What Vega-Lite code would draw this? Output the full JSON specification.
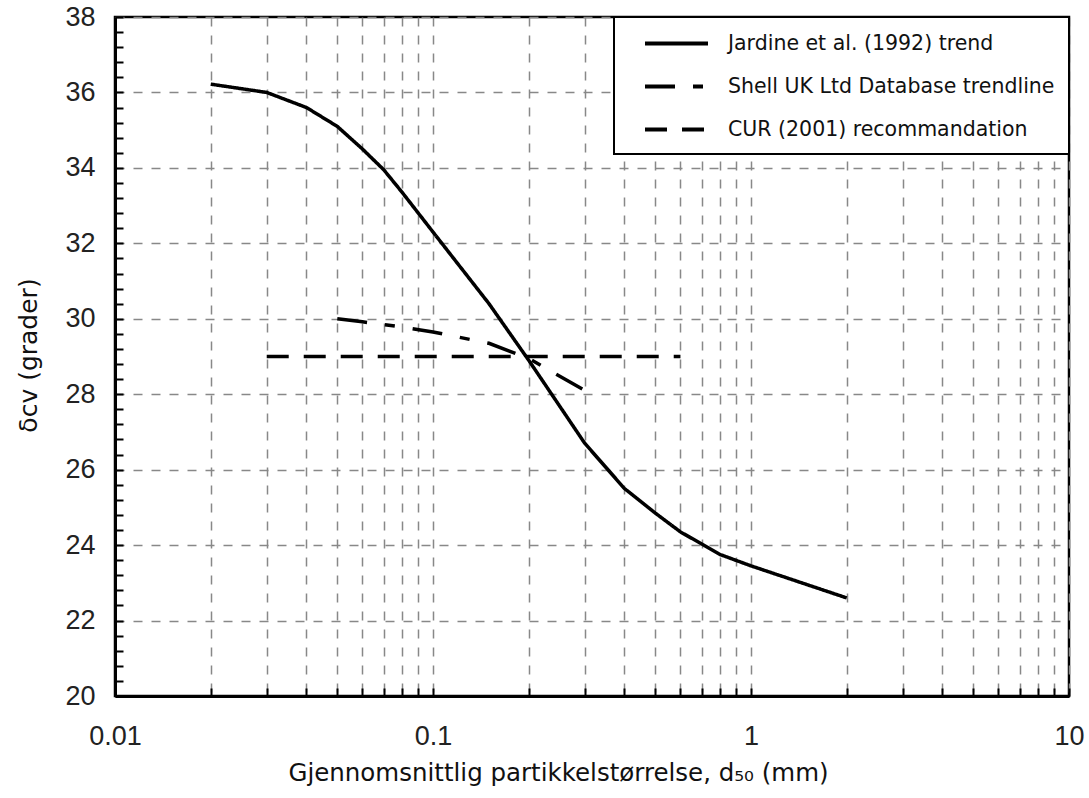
{
  "$schema": "https://vega.github.io/schema/vega-lite/v6.json",
  "width": 954,
  "height": 679,
  "autosize": {"type": "none"},
  "padding": {"left": 115, "top": 17, "right": 20, "bottom": 102},
  "background": "white",
  "config": {
    "view": {"stroke": "black", "strokeWidth": 2.5},
    "legend": {
      "orient": "top-right",
      "offset": 0,
      "fillColor": "white",
      "strokeColor": "black",
      "strokeWidth": 2,
      "padding": 14,
      "rowPadding": 20,
      "symbolOffset": 36,
      "symbolType": "M -3 0 L 3 0",
      "symbolSize": 441,
      "symbolStrokeWidth": 4,
      "symbolStrokeColor": "black",
      "symbolFillColor": "transparent",
      "labelOffset": 39,
      "labelFont": "DejaVu Sans",
      "labelFontSize": 20.5,
      "labelColor": "#111",
      "labelLimit": 500
    }
  },
  "data": {
    "values": [
      {"series": "Jardine et al. (1992) trend", "d50": 0.02, "delta": 36.22},
      {"series": "Jardine et al. (1992) trend", "d50": 0.03, "delta": 36.0},
      {"series": "Jardine et al. (1992) trend", "d50": 0.04, "delta": 35.6},
      {"series": "Jardine et al. (1992) trend", "d50": 0.05, "delta": 35.1},
      {"series": "Jardine et al. (1992) trend", "d50": 0.06, "delta": 34.5},
      {"series": "Jardine et al. (1992) trend", "d50": 0.07, "delta": 33.95},
      {"series": "Jardine et al. (1992) trend", "d50": 0.08, "delta": 33.35},
      {"series": "Jardine et al. (1992) trend", "d50": 0.1, "delta": 32.3},
      {"series": "Jardine et al. (1992) trend", "d50": 0.15, "delta": 30.4},
      {"series": "Jardine et al. (1992) trend", "d50": 0.2, "delta": 28.9},
      {"series": "Jardine et al. (1992) trend", "d50": 0.3, "delta": 26.7},
      {"series": "Jardine et al. (1992) trend", "d50": 0.4, "delta": 25.5},
      {"series": "Jardine et al. (1992) trend", "d50": 0.5, "delta": 24.85},
      {"series": "Jardine et al. (1992) trend", "d50": 0.6, "delta": 24.35},
      {"series": "Jardine et al. (1992) trend", "d50": 0.8, "delta": 23.75},
      {"series": "Jardine et al. (1992) trend", "d50": 1, "delta": 23.45},
      {"series": "Jardine et al. (1992) trend", "d50": 2, "delta": 22.6},
      {"series": "Shell UK Ltd Database trendline", "d50": 0.05, "delta": 30.0},
      {"series": "Shell UK Ltd Database trendline", "d50": 0.06, "delta": 29.92},
      {"series": "Shell UK Ltd Database trendline", "d50": 0.08, "delta": 29.78},
      {"series": "Shell UK Ltd Database trendline", "d50": 0.1, "delta": 29.65},
      {"series": "Shell UK Ltd Database trendline", "d50": 0.15, "delta": 29.35},
      {"series": "Shell UK Ltd Database trendline", "d50": 0.2, "delta": 28.95},
      {"series": "Shell UK Ltd Database trendline", "d50": 0.3, "delta": 28.1},
      {"series": "CUR (2001) recommandation", "d50": 0.03, "delta": 29.0},
      {"series": "CUR (2001) recommandation", "d50": 0.6, "delta": 29.0}
    ]
  },
  "mark": {"type": "line", "color": "black", "strokeWidth": 3.5, "clip": true},
  "encoding": {
    "x": {
      "field": "d50",
      "type": "quantitative",
      "scale": {"type": "log", "domain": [0.01, 10], "nice": false},
      "axis": {
        "title": "Gjennomsnittlig partikkelstørrelse, d₅₀ (mm)",
        "titleFont": "DejaVu Sans",
        "titleFontSize": 24.5,
        "titleFontWeight": "normal",
        "titleColor": "#111",
        "titleX": 443,
        "titleY": 77,
        "titleBaseline": "middle",
        "values": [0.01, 0.02, 0.03, 0.04, 0.05, 0.06, 0.07, 0.08, 0.09, 0.1, 0.2, 0.3, 0.4, 0.5, 0.6, 0.7, 0.8, 0.9, 1, 2, 3, 4, 5, 6, 7, 8, 9, 10],
        "labelExpr": "(datum.value == 0.01 || datum.value == 0.1 || datum.value == 1 || datum.value == 10) ? format(datum.value, '~g') : ''",
        "labelFlush": false,
        "labelOverlap": false,
        "labelFont": "Liberation Sans",
        "labelFontSize": 27,
        "labelColor": "#222",
        "labelPadding": 35,
        "grid": true,
        "gridColor": "#888",
        "gridDash": [9, 9],
        "gridWidth": 1.5,
        "tickSize": -8,
        "tickColor": "black",
        "tickWidth": 2,
        "domainColor": "black",
        "domainWidth": 3
      }
    },
    "y": {
      "field": "delta",
      "type": "quantitative",
      "scale": {"domain": [20, 38], "nice": false, "zero": false},
      "axis": {
        "title": "δcv (grader)",
        "titleFont": "DejaVu Sans",
        "titleFontSize": 25,
        "titleFontWeight": "normal",
        "titleColor": "#111",
        "titleAngle": -90,
        "titleX": -87,
        "titleY": 338,
        "titleAlign": "center",
        "titleBaseline": "middle",
        "values": [20, 20.4, 20.8, 21.2, 21.6, 22, 22.4, 22.8, 23.2, 23.6, 24, 24.4, 24.8, 25.2, 25.6, 26, 26.4, 26.8, 27.2, 27.6, 28, 28.4, 28.8, 29.2, 29.6, 30, 30.4, 30.8, 31.2, 31.6, 32, 32.4, 32.8, 33.2, 33.6, 34, 34.4, 34.8, 35.2, 35.6, 36, 36.4, 36.8, 37.2, 37.6, 38],
        "labelExpr": "abs(datum.value - round(datum.value / 2) * 2) < 0.01 ? format(datum.value, 'd') : ''",
        "labelOverlap": false,
        "labelFlush": false,
        "labelFont": "Liberation Sans",
        "labelFontSize": 27,
        "labelColor": "#222",
        "labelPadding": 28,
        "grid": true,
        "gridColor": "#888",
        "gridDash": [9, 9],
        "gridWidth": 1.5,
        "gridOpacity": {"condition": {"test": "abs(datum.value - round(datum.value / 2) * 2) < 0.01", "value": 1}, "value": 0},
        "tickSize": -8,
        "tickColor": "black",
        "tickWidth": 2,
        "domainColor": "black",
        "domainWidth": 3
      }
    },
    "strokeDash": {
      "field": "series",
      "type": "nominal",
      "scale": {
        "domain": ["Jardine et al. (1992) trend", "Shell UK Ltd Database trendline", "CUR (2001) recommandation"],
        "range": [[1, 0], [30, 18, 10, 18], [22, 15]]
      },
      "legend": {"title": null}
    }
  }
}
